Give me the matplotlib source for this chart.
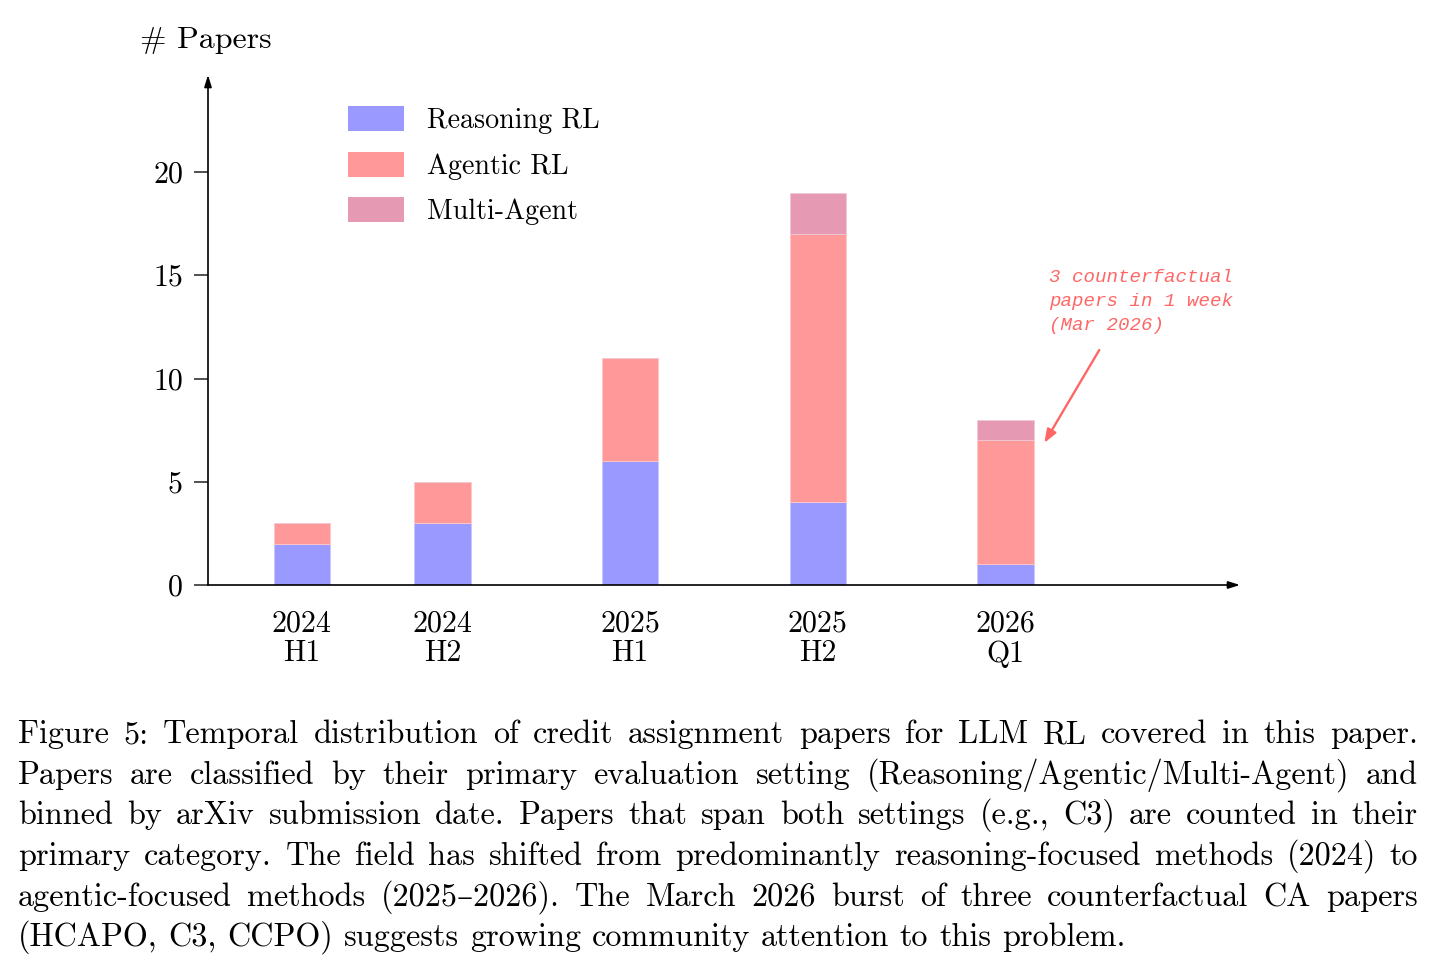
import matplotlib
matplotlib.use("Agg")
import matplotlib.pyplot as plt
from matplotlib.patches import Patch

# ---- data ----
periods = ["2024\nH1", "2024\nH2", "2025\nH1", "2025\nH2", "2026\nQ1"]
reasoning = [2, 3, 6, 4, 1]
agentic = [1, 2, 5, 13, 6]
multi_agent = [0, 0, 0, 2, 1]
series_names = ["Reasoning RL", "Agentic RL", "Multi-Agent"]
y_ticks = [0, 5, 10, 15, 20]

note_text = "3 counterfactual\npapers in 1 week\n(Mar 2026)"

caption_lines = [
    "Figure 5: Temporal distribution of credit assignment papers for LLM RL covered in this paper.",
    "Papers are classified by their primary evaluation setting (Reasoning/Agentic/Multi-Agent) and",
    "binned by arXiv submission date. Papers that span both settings (e.g., C3) are counted in their",
    "primary category. The field has shifted from predominantly reasoning-focused methods (2024) to",
    "agentic-focused methods (2025\u20132026). The March 2026 burst of three counterfactual CA papers",
    "(HCAPO, C3, CCPO) suggests growing community attention to this problem.",
]

# ---- layout / style ----
x_pos = [0, 0.75, 1.75, 2.75, 3.75]   # uneven spacing as in the original
bar_w = 0.30
colors = ["#9999ff", "#ff9999", "#e699b3"]
note_color = "#ff6666"

plt.rcParams['font.family'] = ['cmr10', 'DejaVu Serif']
plt.rcParams['axes.formatter.use_mathtext'] = True

W, H = 1434, 972
fig = plt.figure(figsize=(W / 100, H / 100), dpi=100)
ax = fig.add_axes([208 / W, 1 - 585 / H, 1032 / W, 510 / H])
ax.set_xlim(-0.5, 5.0)
ax.set_ylim(0, 24.7)

bottom2 = [a + b for a, b in zip(reasoning, agentic)]
ax.bar(x_pos, reasoning, bar_w, color=colors[0], edgecolor="#c8c8ff", linewidth=0.6)
ax.bar(x_pos, agentic, bar_w, bottom=reasoning, color=colors[1], edgecolor="#ffc8c8", linewidth=0.6)
ax.bar(x_pos, multi_agent, bar_w, bottom=bottom2, color=colors[2], edgecolor="#f0c8d6", linewidth=0.6)

# axes with arrows
for s in ax.spines.values():
    s.set_visible(False)
arrow_kw = dict(arrowstyle="-|>,head_length=0.7,head_width=0.22", color="black", lw=1.2,
                shrinkA=0, shrinkB=0)
ax.annotate("", xy=(0, 1), xytext=(0, 0), xycoords="axes fraction", arrowprops=arrow_kw)
ax.annotate("", xy=(1, 0), xytext=(0, 0), xycoords="axes fraction", arrowprops=arrow_kw)

ax.set_yticks(y_ticks, labels=[str(v) for v in y_ticks], fontsize=21.5)
ax.tick_params(axis="y", direction="out", length=10, width=1.2, pad=8, color="#333333")
ax.set_xticks(x_pos, labels=periods, fontsize=21.5, linespacing=1.12)
ax.tick_params(axis="x", length=0, pad=18)

fig.text(140 / W, 1 - 40 / H, "# Papers", fontsize=23, va="center", ha="left")

handles = [Patch(facecolor=c, edgecolor="none") for c in colors]
fig.legend(handles, series_names, loc="upper left", bbox_to_anchor=(348 / W, 1 - 106 / H),
           frameon=False, fontsize=20.2, handlelength=2.0, handleheight=1.0,
           handletextpad=0.8, labelspacing=0.62, borderpad=0, borderaxespad=0)

# annotation for the March 2026 burst
ax.annotate("", xy=(3.957, 6.88), xytext=(4.25, 11.38),
            arrowprops=dict(arrowstyle="-|>,head_length=0.8,head_width=0.3",
                            color=note_color, lw=1.7, shrinkA=0, shrinkB=0))
ax.text(3.984, 13.72, note_text, color=note_color, fontsize=13.8, family="Liberation Mono",
        style="italic", ha="left", va="center", linespacing=1.52)

# caption, justified line by line
renderer = fig.canvas.get_renderer()
left, right = 18, 1418
baselines = [743, 784, 824, 865, 906, 946]


def text_width(s, size):
    t = fig.text(0, 0, s, fontsize=size)
    w = t.get_window_extent(renderer).width
    t.remove()
    return w


# pick the caption size so the full lines fit with a bit more than natural spacing
base = 20
ratios = [(right - left) / text_width(l, base) for l in caption_lines[:-1]]
cap_size = base * sorted(ratios)[len(ratios) // 2] * 0.965
space_w = text_width("a b", cap_size) - text_width("ab", cap_size)

for i, line in enumerate(caption_lines):
    words = line.split(" ")
    texts = [fig.text(0, 1 - baselines[i] / H, w, fontsize=cap_size, va="baseline", ha="left")
             for w in words]
    widths = [t.get_window_extent(renderer).width for t in texts]
    if i < len(caption_lines) - 1:
        gap = (right - left - sum(widths)) / (len(words) - 1)
    else:
        gap = space_w
    x = left
    for t, w in zip(texts, widths):
        t.set_x(x / W)
        x += w + gap

fig.savefig("out.png", dpi=100)
